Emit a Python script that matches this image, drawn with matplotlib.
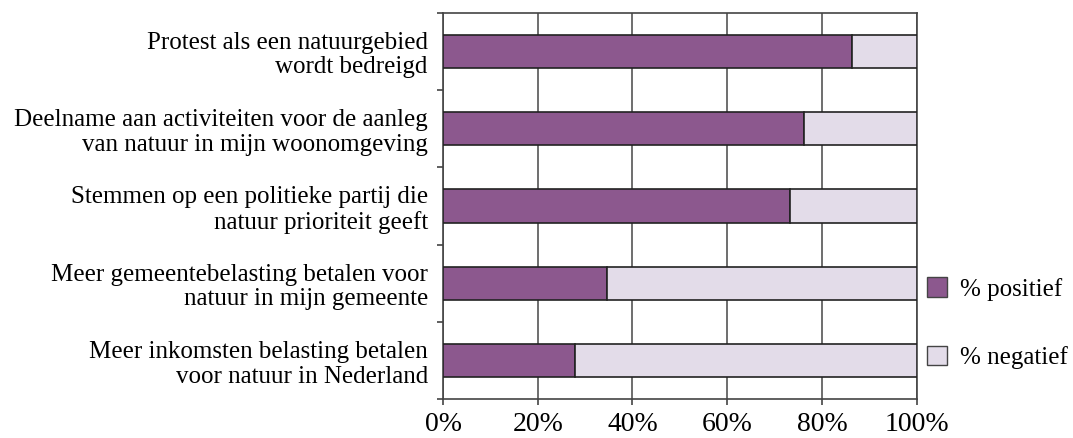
import numpy as np
import matplotlib.pyplot as plt
from matplotlib.patches import Patch

# data
categories = ['Protest als een natuurgebied\nwordt bedreigd',
              'Deelname aan activiteiten voor de aanleg\nvan natuur in mijn woonomgeving',
              'Stemmen op een politieke partij die\nnatuur prioriteit geeft',
              'Meer gemeentebelasting betalen voor\nnatuur in mijn gemeente',
              'Meer inkomsten belasting betalen\nvoor natuur in Nederland']
positief = [86.3, 76.3, 73.2, 34.7, 27.8]
negatief = [100 - p for p in positief]
xticks = [0, 20, 40, 60, 80, 100]
xticklabels = ['0%', '20%', '40%', '60%', '80%', '100%']

c_pos = '#8C588E'
c_neg = '#E3DCE9'
edge = '#222222'

plt.rcParams['font.family'] = ['Liberation Serif', 'DejaVu Serif']
plt.rcParams['font.size'] = 18

fig = plt.figure(figsize=(10.73, 4.38), dpi=100)
ax = fig.add_axes([0.4129, 0.0884, 0.4414, 0.8828])

y = np.arange(len(categories))
ax.barh(y, positief, height=0.43, color=c_pos, edgecolor=edge, linewidth=1.2, zorder=3)
ax.barh(y, negatief, left=positief, height=0.43, color=c_neg, edgecolor=edge, linewidth=1.2, zorder=3)

ax.set_xlim(0, 100)
ax.set_ylim(len(categories) - 0.5, -0.5)

ax.set_xticks(xticks)
ax.set_xticklabels(xticklabels, fontsize=20)
ax.set_yticks(y)
ax.set_yticklabels(categories, linespacing=1.15)
ax.tick_params(axis='y', length=0, pad=11)
# kleine streepjes tussen de categorieen
ax.set_yticks(np.arange(-0.5, len(categories)), minor=True)
ax.tick_params(axis='y', which='minor', length=4, width=1.2, color='#444444')
ax.tick_params(axis='x', length=4, width=1.2, color='#444444', pad=5)

ax.grid(axis='x', color='#555555', linewidth=1.2, zorder=0)
for sp in ax.spines.values():
    sp.set_color('#444444')
    sp.set_linewidth(1.2)

for lab in ax.get_yticklabels():
    lab.set_horizontalalignment('right')
    lab.set_multialignment('right')

handles = [Patch(facecolor=c_pos, edgecolor='#444444', label='% positief'),
           Patch(facecolor=c_neg, edgecolor='#444444', label='% negatief')]
fig.legend(handles=handles, loc='center left', bbox_to_anchor=(0.843, 0.262),
           frameon=False, handlelength=0.8, handleheight=0.8, labelspacing=1.8,
           handletextpad=0.5, fontsize=18)

fig.savefig('out.png', dpi=100)
